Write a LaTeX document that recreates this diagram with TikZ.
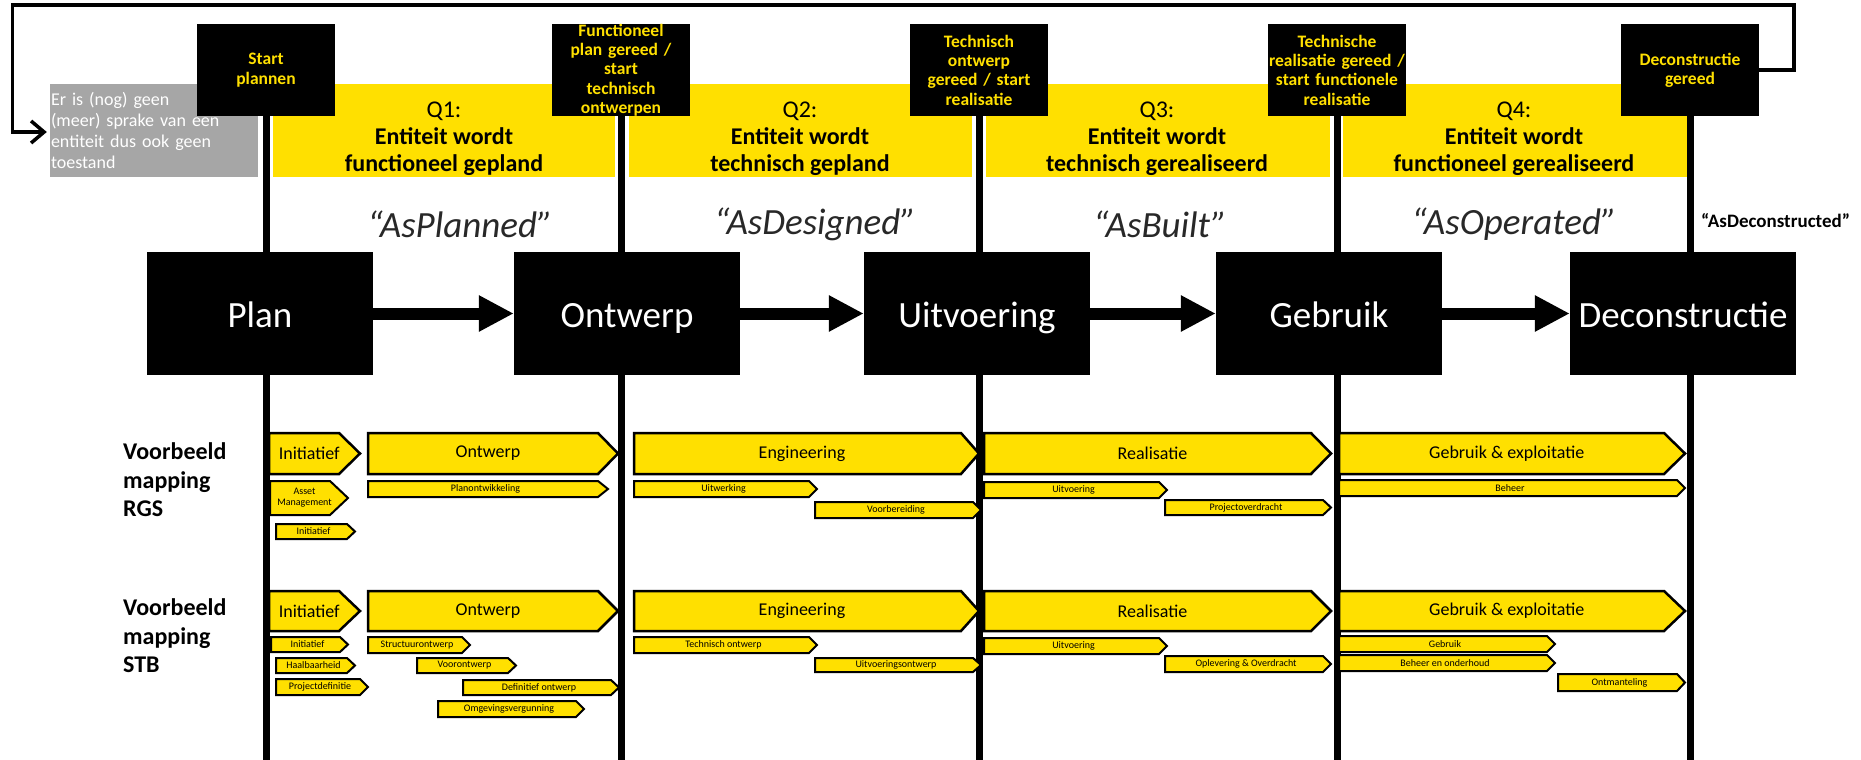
\documentclass[tikz,border=0pt]{standalone}
\usepackage{fontspec}
\setmainfont{Carlito}
\usetikzlibrary{arrows.meta}
\definecolor{ryel}{RGB}{255,224,0}
\definecolor{rgray}{RGB}{166,166,166}
\definecolor{asgray}{RGB}{40,40,40}
\newcommand\fs[2]{\fontsize{#1}{#2}\selectfont}
\tikzset{
  milestone/.style={fill=black, text=ryel, font=\bfseries\fs{17.5}{19.3}, align=center,
    minimum width=138pt, minimum height=92pt, inner sep=0pt, text width=136pt},
  procbox/.style={fill=black, text=white, font=\fs{37}{44},
    minimum width=226pt, minimum height=123pt, inner sep=0pt, text height=30pt, text depth=3pt},
  band/.style={fill=ryel, inner sep=0pt, minimum height=93pt},
  qtext/.style={font=\fs{24}{27}, align=center, inner sep=0pt},
  aslabel/.style={font=\itshape\fs{37}{42}, text=asgray, inner sep=0pt},
  vline/.style={line width=7pt, black},
  flow/.style={line width=12pt, -{Triangle[length=35pt 0 0,width=34pt 0 0]}},
  loopline/.style={line width=3.5pt, -{Straight Barb[length=13pt 0 0,width=22pt 0 0]}},
  graybox/.style={fill=rgray, text=white, font=\fs{18}{21}, align=left, text width=206pt,
    minimum width=208pt, minimum height=93pt, inner xsep=1pt, inner ysep=0pt},
  rowlabel/.style={font=\bfseries\fs{24}{28.5}, align=left, inner sep=0pt},
  pillbig/.style={fill=ryel, draw=black, line width=2.5pt},
  pillsmall/.style={fill=ryel, draw=black, line width=2pt},
  pillbigtext/.style={font=\fs{18}{21}, inner sep=0pt},
  pillsmalltext/.style={font=\fs{10}{11}, inner sep=0pt, align=center},
}
% style, name, x0, y0, xtip, y1, tiplength, text
\newcommand\pill[8]{%
  \draw[#1] (#3,#4) -- (#5-#7,#4) -- (#5,{(#4+#6)/2}) -- (#5-#7,#6) -- (#3,#6) -- cycle;
  \node[#1text] (#2) at ({(#3+#5-#7/2)/2},{(#4+#6)/2}) {#8};
}
\begin{document}
\begin{tikzpicture}[x=1pt,y=-1pt]
\useasboundingbox (0,0) rectangle (1861,760);
\coordinate (bot) at (0,760);

% gray box
\node[graybox] (gray) at (154,130.5) {Er is (nog) geen\\(meer) sprake van een\\entiteit dus ook geen\\toestand};

% yellow bands
\node[band, minimum width=342pt] (q1) at (444,130.5) {};
\node[band, minimum width=343pt] (q2) at (800.5,130.5) {};
\node[band, minimum width=344pt] (q3) at (1158,130.5) {};
\node[band, minimum width=344pt] (q4) at (1515,130.5) {};

% milestones
\node[milestone] (m1) at (266,70) {Start\\plannen};
\node[milestone] (m2) at (621,70) {Functioneel\\plan gereed /\\start\\technisch\\ontwerpen};
\node[milestone] (m3) at (979,70) {Technisch\\ontwerp\\gereed / start\\realisatie};
\node[milestone] (m4) at (1337,70) {Technische\\realisatie gereed /\\start functionele\\realisatie};
\node[milestone] (m5) at (1690,70) {Deconstructie\\gereed};

% vertical lines
\foreach \m in {m1,m2,m3,m4,m5} \draw[vline] (\m.south) -- (\m.south |- bot);

% loop connector
\coordinate (lpR) at (1794,70);
\coordinate (lpRT) at (1794,5);
\coordinate (lpLT) at (12.5,5);
\coordinate (lpLB) at (12.5,132);
\draw[loopline, shorten >=3pt] (m5.east) -- (lpR) -- (lpRT) -- (lpLT) -- (lpLB) -- (gray.west |- lpLB);

% Q texts
\node[qtext] (q1t) at (444,139) {Q1:\\\textbf{Entiteit wordt}\\\textbf{functioneel gepland}};
\node[qtext] (q2t) at (800,139) {Q2:\\\textbf{Entiteit wordt}\\\textbf{technisch gepland}};
\node[qtext] (q3t) at (1157,139) {Q3:\\\textbf{Entiteit wordt}\\\textbf{technisch gerealiseerd}};
\node[qtext] (q4t) at (1514,139) {Q4:\\\textbf{Entiteit wordt}\\\textbf{functioneel gerealiseerd}};

% As-labels
\node[aslabel] (as1) at (460,224) {“AsPlanned”};
\node[aslabel] (as2) at (815,224) {“AsDesigned”};
\node[aslabel] (as3) at (1160,224) {“AsBuilt”};
\node[aslabel] (as4) at (1514,224) {“AsOperated”};
\node[font=\bfseries\fs{19}{22}, inner sep=0pt, anchor=west] (as5) at (1701,221) {“AsDeconstructed”};

% process boxes
\node[procbox] (plan) at (260,313.5) {Plan};
\node[procbox] (ontwerp) at (627,313.5) {Ontwerp};
\node[procbox] (uitv) at (977,313.5) {Uitvoering};
\node[procbox] (gebruik) at (1329,313.5) {Gebruik};
\node[procbox] (decon) at (1683,313.5) {Deconstructie};
\draw[flow] (plan) -- (ontwerp);
\draw[flow] (ontwerp) -- (uitv);
\draw[flow] (uitv) -- (gebruik);
\draw[flow] (gebruik) -- (decon);

% row labels
\node[rowlabel, anchor=west] (lrgs) at (123,480) {Voorbeeld\\mapping\\RGS};
\node[rowlabel, anchor=west] (lstb) at (123,636) {Voorbeeld\\mapping\\STB};

% RGS row
\pill{pillbig}{rInit}{269}{433}{360}{474}{21}{Initiatief}
\pill{pillbig}{rOntw}{368}{433}{618}{474}{20}{Ontwerp}
\pill{pillbig}{rEng}{634}{433}{979}{474}{18}{Engineering}
\pill{pillbig}{rReal}{984}{433}{1331}{474}{20}{Realisatie}
\pill{pillbig}{rGeb}{1339}{433}{1685}{474}{21}{Gebruik \& exploitatie}
\pill{pillsmall}{rAsset}{270}{481}{348}{515}{18}{Asset\\Management}
\pill{pillsmall}{rInit2}{276}{524}{355}{539}{8}{Initiatief}
\pill{pillsmall}{rPlan}{368}{481}{608}{497}{10}{Planontwikkeling}
\pill{pillsmall}{rUitw}{634}{481}{817}{497}{8}{Uitwerking}
\pill{pillsmall}{rVoorb}{815}{502}{981}{518}{8}{Voorbereiding}
\pill{pillsmall}{rUitv}{984}{482}{1167}{498}{8}{Uitvoering}
\pill{pillsmall}{rProj}{1165}{500}{1331}{515}{8}{Projectoverdracht}
\pill{pillsmall}{rBeh}{1339}{480}{1685}{496}{8}{Beheer}

% STB row
\pill{pillbig}{sInit}{269}{591}{360}{631}{21}{Initiatief}
\pill{pillbig}{sOntw}{368}{591}{618}{631}{20}{Ontwerp}
\pill{pillbig}{sEng}{634}{591}{979}{631}{18}{Engineering}
\pill{pillbig}{sReal}{984}{591}{1331}{631}{20}{Realisatie}
\pill{pillbig}{sGeb}{1339}{591}{1685}{631}{21}{Gebruik \& exploitatie}
\pill{pillsmall}{sInit2}{271}{637}{348}{652}{8}{Initiatief}
\pill{pillsmall}{sHaal}{276}{658}{355}{673}{8}{Haalbaarheid}
\pill{pillsmall}{sProj}{276}{679}{368}{695}{8}{Projectdefinitie}
\pill{pillsmall}{sStruc}{368}{637}{470}{653}{8}{Structuurontwerp}
\pill{pillsmall}{sVoor}{417}{658}{516}{673}{8}{Voorontwerp}
\pill{pillsmall}{sDef}{463}{680}{619}{695}{8}{Definitief ontwerp}
\pill{pillsmall}{sOmg}{438}{701}{584}{717}{8}{Omgevingsvergunning}
\pill{pillsmall}{sTech}{634}{637}{817}{653}{8}{Technisch ontwerp}
\pill{pillsmall}{sUitvo}{815}{658}{981}{672}{8}{Uitvoeringsontwerp}
\pill{pillsmall}{sUitv}{984}{638}{1167}{654}{8}{Uitvoering}
\pill{pillsmall}{sOpl}{1165}{656}{1331}{672}{8}{Oplevering \& Overdracht}
\pill{pillsmall}{sGebr}{1339}{636}{1555}{652}{8}{Gebruik}
\pill{pillsmall}{sBeh}{1339}{655}{1555}{671}{8}{Beheer en onderhoud}
\pill{pillsmall}{sOntm}{1558}{674}{1685}{691}{8}{Ontmanteling}
\end{tikzpicture}
\end{document}
